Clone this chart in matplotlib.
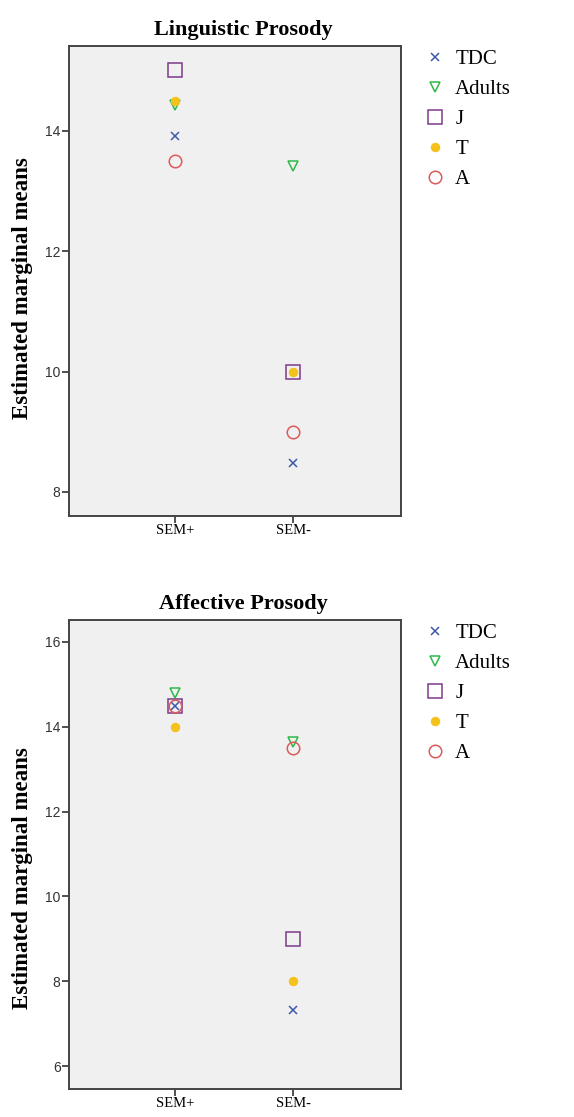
import numpy as np
import matplotlib
matplotlib.use("Agg")
import matplotlib.pyplot as plt

conditions = ["SEM+", "SEM-"]
groups = ["TDC", "Adults", "J", "T", "A"]

# linguistic prosody, values for SEM+ / SEM-
ling_tdc = [13.92, 8.48]
ling_adults = [14.43, 13.42]
ling_j = [15.0, 10.0]
ling_t = [14.5, 10.0]
ling_a = [13.5, 9.0]

# affective prosody
aff_tdc = [14.5, 7.33]
aff_adults = [14.8, 13.64]
aff_j = [14.5, 9.0]
aff_t = [14.0, 8.0]
aff_a = [14.5, 13.5]

colors = ["#3e58ac", "#2eb848", "#7c3a8a", "#f5c21b", "#dc5a5a"]
markers = ["x", "v", "s", "o", "o"]
sizes = [6, 7, 10, 6, 9]

serif = ["Liberation Serif", "DejaVu Serif"]
sans = ["Liberation Sans", "DejaVu Sans"]


def draw(ax, series, title, ylim, yticks, label_y):
    x = np.arange(len(conditions))
    for vals, name, c, m, s in zip(series, groups, colors, markers, sizes):
        if name == "T":
            ax.plot(x, vals, linestyle="none", marker=m, ms=s, mfc=c, mec=c,
                    mew=0.8, label=name, zorder=3)
        else:
            ax.plot(x, vals, linestyle="none", marker=m, ms=s, mfc="none",
                    mec=c, mew=1.1, label=name, zorder=3)
    ax.set_facecolor("#f0f0f0")
    ax.set_xlim(-0.9, 1.915)
    ax.set_ylim(*ylim)
    ax.set_xticks(x)
    ax.set_xticklabels(conditions, family=serif, fontsize=10.5)
    ax.set_yticks(yticks)
    ax.set_yticklabels([str(t) for t in yticks], family=sans, fontsize=10,
                       color="#333333")
    ax.tick_params(length=5, width=1.2, color="#333333", pad=1)
    for sp in ax.spines.values():
        sp.set_color("#444444")
        sp.set_linewidth(1.4)
    ax.set_title(title, family=serif, fontweight="bold", fontsize=16, pad=8,
                 x=0.525)
    ax.set_ylabel("Estimated marginal means", family=serif, fontweight="bold",
                  fontsize=16.5)
    ax.yaxis.set_label_coords(-0.108, label_y)
    ax.legend(loc="upper left", bbox_to_anchor=(1.04, 1.01), frameon=False,
              prop={"family": serif, "size": 15}, handletextpad=0.35,
              labelspacing=0.5, handlelength=1.2, borderaxespad=0)


fig = plt.figure(figsize=(5.74, 11.17), dpi=100)
ax1 = fig.add_axes([0.120, 0.538, 0.579, 0.421])
ax2 = fig.add_axes([0.120, 0.025, 0.579, 0.420])

draw(ax1, [ling_tdc, ling_adults, ling_j, ling_t, ling_a],
     "Linguistic Prosody", (7.6, 15.41), [8, 10, 12, 14], 0.485)
draw(ax2, [aff_tdc, aff_adults, aff_j, aff_t, aff_a],
     "Affective Prosody", (5.46, 16.52), [6, 8, 10, 12, 14, 16], 0.45)

fig.savefig("out.png", dpi=100)
